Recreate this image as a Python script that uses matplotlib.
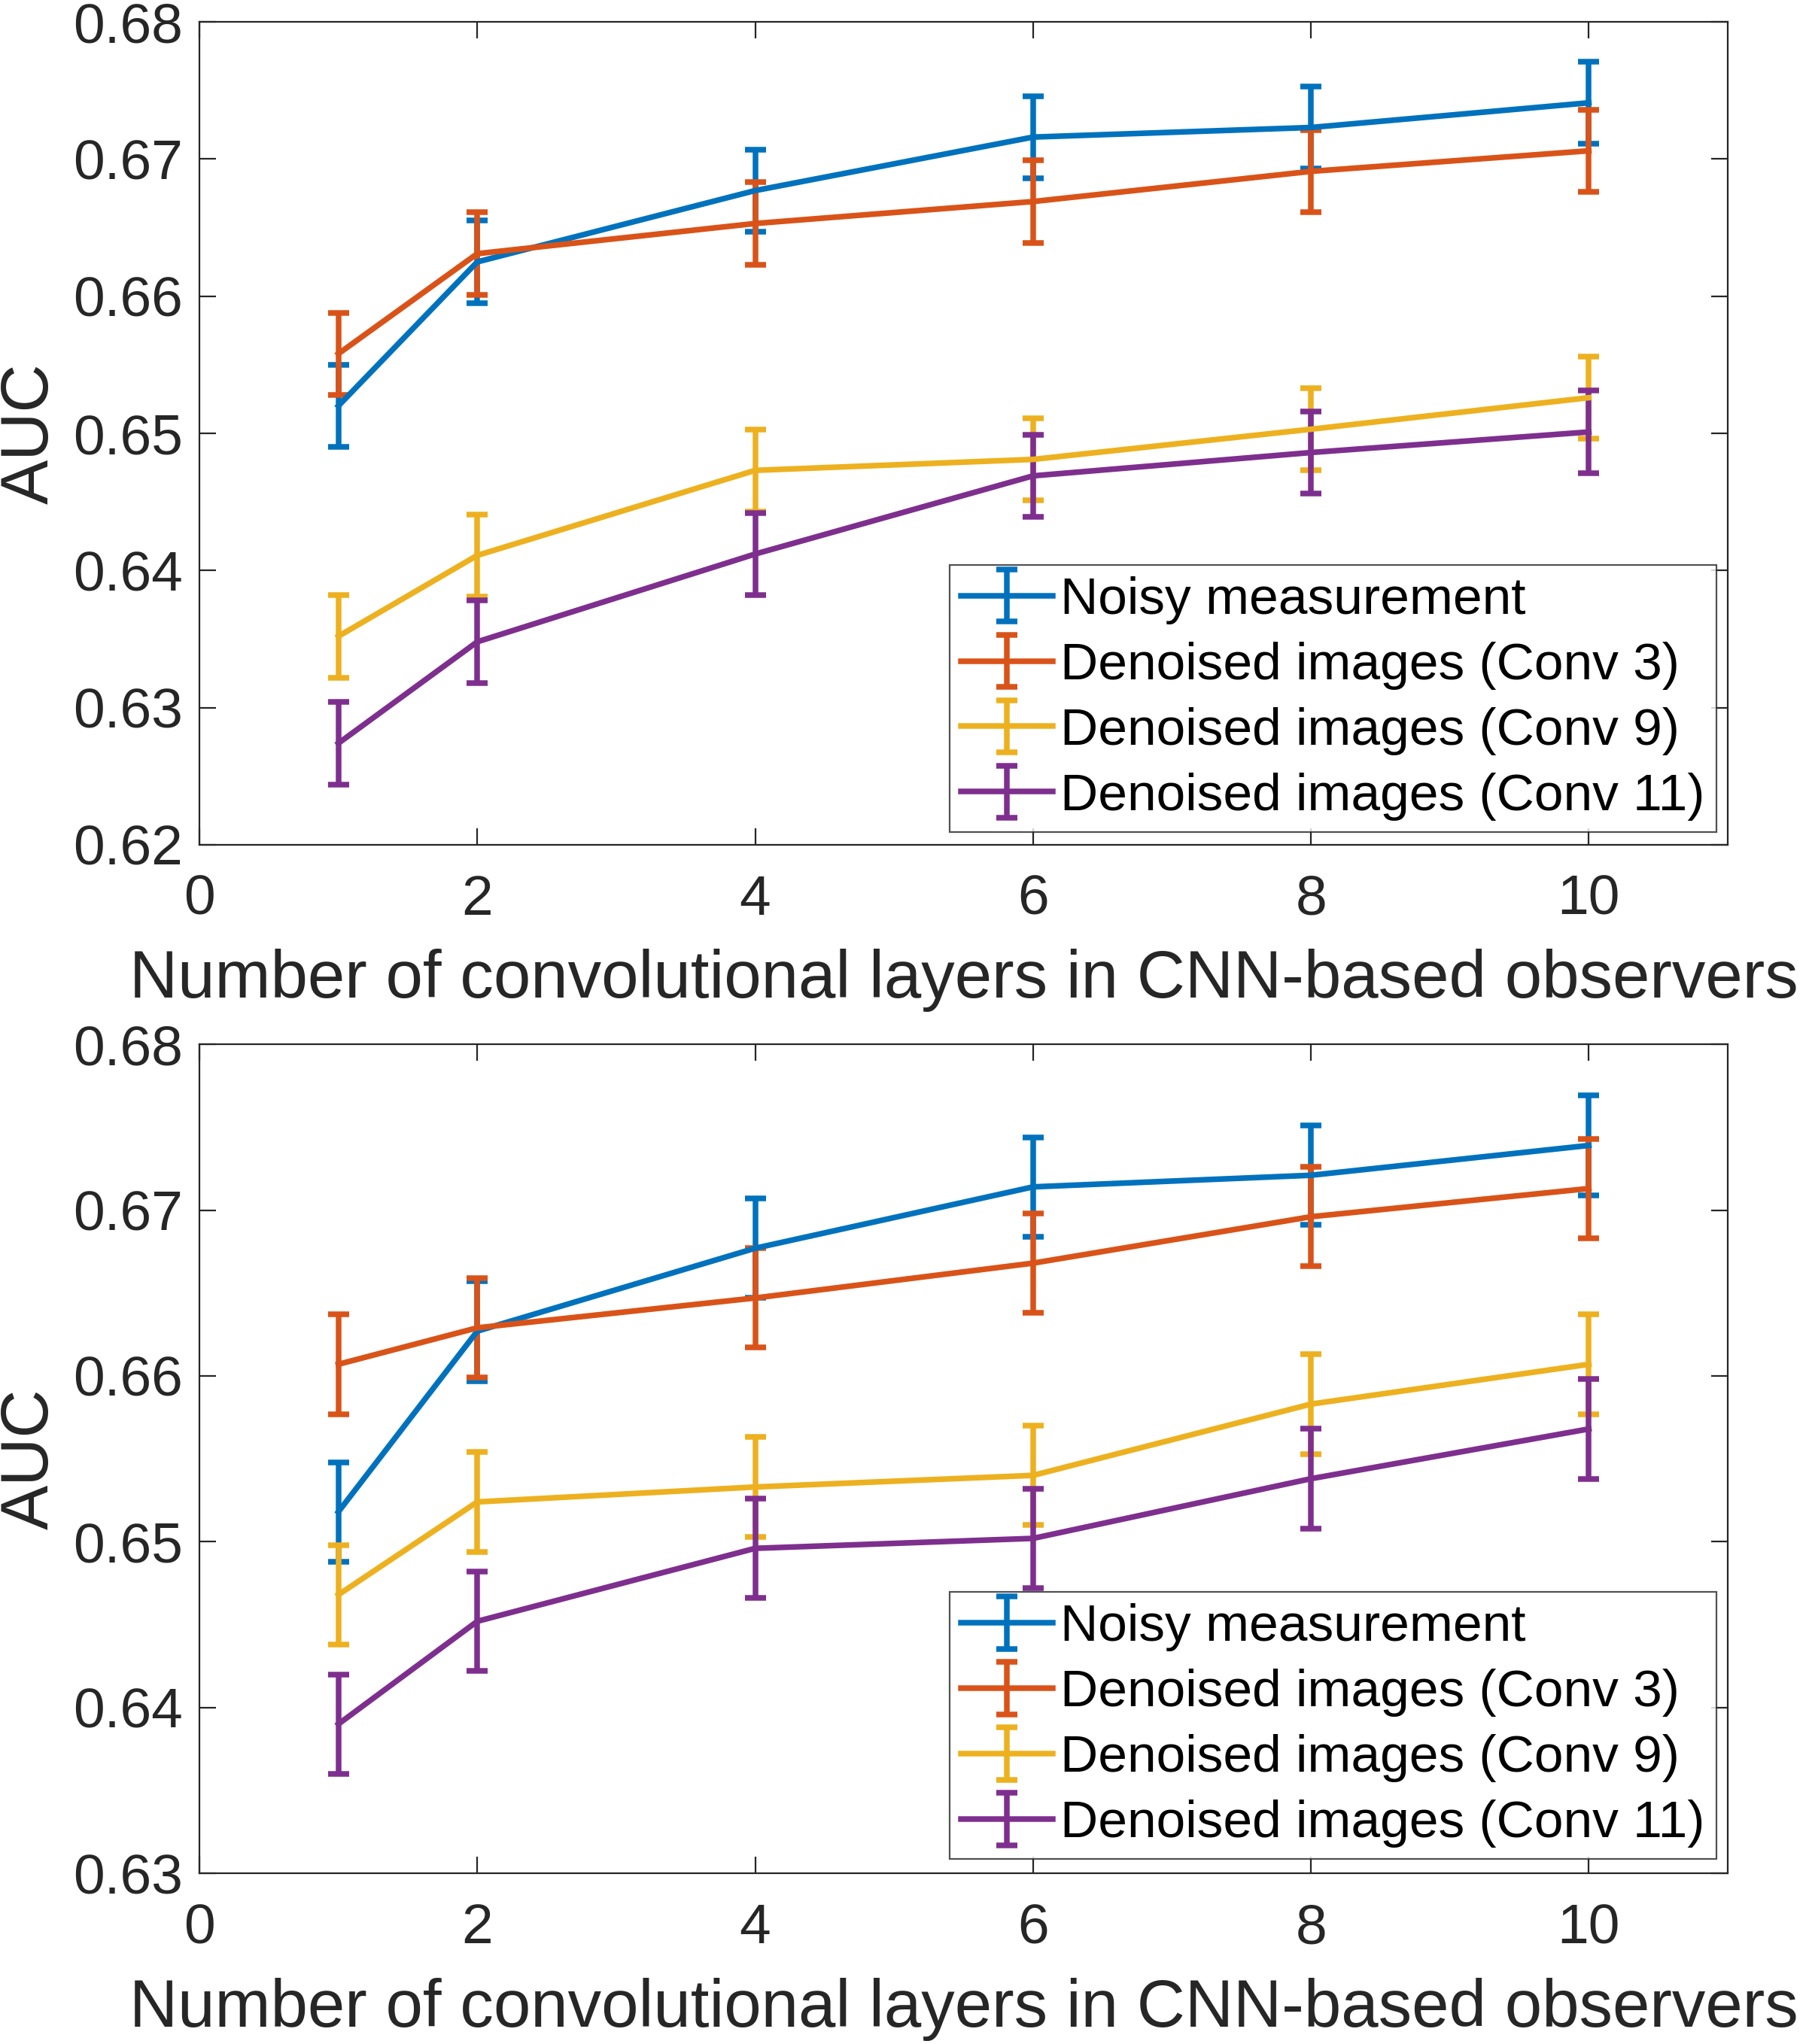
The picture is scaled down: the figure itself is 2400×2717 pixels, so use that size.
import matplotlib.pyplot as plt
import numpy as np

plt.rcParams['font.family'] = ['Liberation Sans', 'DejaVu Sans']

layers = [1, 2, 4, 6, 8, 10]
labels = ['Noisy measurement', 'Denoised images (Conv 3)',
          'Denoised images (Conv 9)', 'Denoised images (Conv 11)']
colors = ['#0072BD', '#D95319', '#EDB120', '#7E2F8E']

# top panel
top_noisy = [0.6520, 0.6625, 0.6677, 0.6716, 0.6723, 0.6741]
top_conv3 = [0.6558, 0.6631, 0.6653, 0.6669, 0.6691, 0.6706]
top_conv9 = [0.6352, 0.6411, 0.6473, 0.6481, 0.6503, 0.6526]
top_conv11 = [0.6274, 0.6348, 0.6412, 0.6469, 0.6486, 0.6501]
top_err = 0.003

# bottom panel
bot_noisy = [0.6518, 0.6627, 0.6677, 0.6714, 0.6721, 0.6739]
bot_conv3 = [0.6607, 0.6629, 0.6647, 0.6668, 0.6696, 0.6713]
bot_conv9 = [0.6468, 0.6524, 0.6533, 0.6540, 0.6583, 0.6607]
bot_conv11 = [0.6390, 0.6452, 0.6496, 0.6502, 0.6538, 0.6568]
bot_err = 0.003

xticks = [0, 2, 4, 6, 8, 10]
top_yticks = [0.62, 0.63, 0.64, 0.65, 0.66, 0.67, 0.68]
bot_yticks = [0.63, 0.64, 0.65, 0.66, 0.67, 0.68]

FS_TICK = 27
FS_LAB = 32
FS_LEG = 25
GRAY = '#262626'

fig = plt.figure(figsize=(12, 13.585), dpi=200)
ax1 = fig.add_axes([0.1104, 0.5867, 0.8463, 0.4026])
ax2 = fig.add_axes([0.1104, 0.0835, 0.8463, 0.4056])


def draw(ax, series, err, yticks, leg_y):
    for vals, lab, c in zip(series, labels, colors):
        ax.errorbar(layers, vals, yerr=err, color=c, lw=2.7, elinewidth=2.7,
                    capsize=5, capthick=2.7, label=lab)
    ax.set_xlim(0, 11)
    ax.set_ylim(yticks[0], yticks[-1])
    ax.set_xticks(xticks)
    ax.set_yticks(yticks)
    ax.set_yticklabels(['%.2f' % v for v in yticks])
    ax.tick_params(direction='in', length=8, width=0.8, colors=GRAY,
                   labelcolor=GRAY, labelsize=FS_TICK, top=True, right=True)
    ax.tick_params(axis='x', pad=14)
    ax.tick_params(axis='y', pad=8)
    for s in ax.spines.values():
        s.set_color(GRAY)
        s.set_linewidth(0.8)
    ax.set_xlabel('Number of convolutional layers in CNN-based observers',
                  fontsize=FS_LAB, color=GRAY, labelpad=11)
    ax.set_ylabel('AUC', fontsize=FS_LAB, color=GRAY, labelpad=5)
    leg = ax.legend(loc='lower right', bbox_to_anchor=(0.9926, leg_y),
                    borderaxespad=0, fontsize=FS_LEG, frameon=True,
                    fancybox=False, handlelength=1.75, handletextpad=0.15,
                    borderpad=0.22, labelspacing=0.33, labelcolor='black')
    leg.get_frame().set_edgecolor(GRAY)
    leg.get_frame().set_linewidth(0.8)


draw(ax1, [top_noisy, top_conv3, top_conv9, top_conv11], top_err,
     top_yticks, 0.0155)
draw(ax2, [bot_noisy, bot_conv3, bot_conv9, bot_conv11], bot_err,
     bot_yticks, 0.017)

fig.savefig('out.png', dpi=200)
